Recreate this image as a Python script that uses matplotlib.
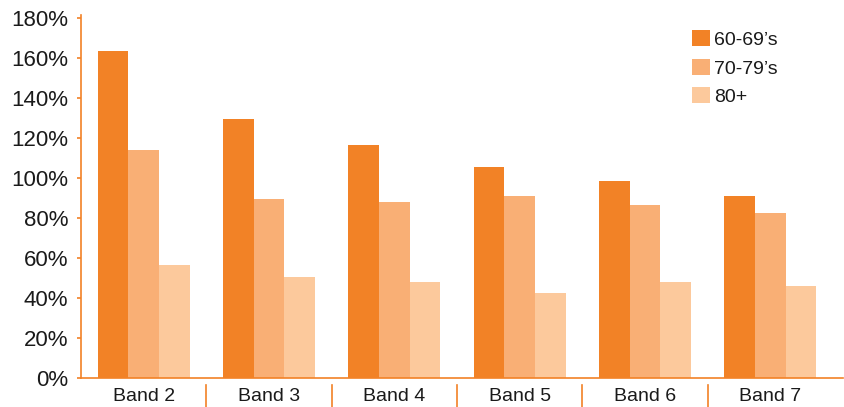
import numpy as np
import matplotlib
matplotlib.use('Agg')
import matplotlib.pyplot as plt
import matplotlib.transforms as mtransforms
from matplotlib.ticker import FuncFormatter

plt.rcParams['font.family'] = ['Liberation Sans', 'DejaVu Sans']

# Veriler
bands = ['Band 2', 'Band 3', 'Band 4', 'Band 5', 'Band 6', 'Band 7']
age_60_69 = [163.5, 129.5, 116.5, 105.5, 98.5, 91]
age_70_79 = [114, 89.5, 88, 91, 86.5, 82.5]
age_80_plus = [56.5, 50.5, 48, 42.5, 48, 46]
series_labels = ['60-69\u2019s', '70-79\u2019s', '80+']
yticks = [0, 20, 40, 60, 80, 100, 120, 140, 160, 180]

ORANGE = '#F28226'
colors = [ORANGE, '#F9AF75', '#FCC99C']

fig = plt.figure(figsize=(8.45, 4.07), dpi=100)
ax = fig.add_axes([81 / 845, 1 - 378 / 407, 762 / 845, 363 / 407])

x = np.arange(len(bands))
w = 0.245
for i, (vals, lab, c) in enumerate(zip([age_60_69, age_70_79, age_80_plus], series_labels, colors)):
    ax.bar(x + (i - 1) * w, vals, width=w, color=c, label=lab, linewidth=0)

ax.set_xlim(-0.5, len(bands) - 0.42)
ax.set_ylim(0, 181.5)
ax.set_yticks(yticks)
ax.yaxis.set_major_formatter(FuncFormatter(lambda v, p: f'{v:.0f}%'))
ax.set_xticks(x)
ax.set_xticklabels(bands)

for side in ['top', 'right']:
    ax.spines[side].set_visible(False)
for side in ['left', 'bottom']:
    ax.spines[side].set_color(ORANGE)
    ax.spines[side].set_linewidth(1.2)

ax.tick_params(axis='y', length=3, width=1.2, color=ORANGE, pad=6, labelsize=16, labelcolor='#1a1a1a')
ax.tick_params(axis='x', length=0, pad=7, labelsize=14, labelcolor='#1a1a1a')

# Kategori ayırıcıları (eksenin altında)
trans = mtransforms.blended_transform_factory(ax.transData, ax.transAxes)
for b in x[:-1] + 0.5:
    ax.plot([b, b], [-0.02, -0.09], color=ORANGE, lw=1.2, transform=trans, clip_on=False)

leg = ax.legend(loc='upper left', bbox_to_anchor=(0.802, 0.958), frameon=False, fontsize=14,
                handlelength=0.9, handleheight=0.9, handletextpad=0.25, labelspacing=0.5,
                borderaxespad=0, borderpad=0)
for t in leg.get_texts():
    t.set_color('#1a1a1a')

fig.savefig('out.png', dpi=100)
